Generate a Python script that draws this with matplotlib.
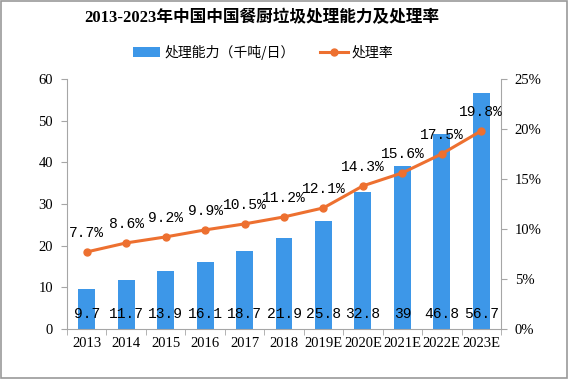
import matplotlib.pyplot as plt
import numpy as np
from matplotlib.patches import Rectangle
from matplotlib.ticker import FuncFormatter, FixedLocator

plt.rcParams['font.family'] = ['Liberation Serif', 'Noto Sans CJK SC']

years = ["2013", "2014", "2015", "2016", "2017", "2018", "2019E", "2020E", "2021E", "2022E", "2023E"]
capacity = [9.7, 11.7, 13.9, 16.1, 18.7, 21.9, 25.8, 32.8, 39, 46.8, 56.7]
rate = [7.7, 8.6, 9.2, 9.9, 10.5, 11.2, 12.1, 14.3, 15.6, 17.5, 19.8]
cap_labels = ["9.7", "11.7", "13.9", "16.1", "18.7", "21.9", "25.8", "32.8", "39", "46.8", "56.7"]

BLUE = "#3d97e8"
ORANGE = "#ed7030"
GRAY = "#a6a6a6"

fig = plt.figure(figsize=(5.68, 3.79), dpi=100)
ax = fig.add_axes([0.118, 0.132, 0.764, 0.66])
ax2 = ax.twinx()

x = np.arange(len(years))
bars = ax.bar(x, capacity, width=0.43, color=BLUE, zorder=2, label="处理能力（千吨/日）")
ax.set_ylim(0, 60)
ax.set_xlim(-0.5, len(years) - 0.5)
ax.set_yticks(range(0, 61, 10))

line, = ax2.plot(x, rate, color=ORANGE, lw=2.2, marker="o", ms=5, zorder=3, label="处理率")
ax2.set_ylim(0, 25)
ax2.set_yticks(range(0, 26, 5))
ax2.yaxis.set_major_formatter(FuncFormatter(lambda v, p: f"{v:.0f}%"))

for xi, lab in zip(x, cap_labels):
    ax.text(xi, 3.5, lab, ha="center", va="center", fontsize=10.5, family=['Liberation Mono'])
for xi, r in zip(x, rate):
    ax2.text(xi, r + 1.2, f"{r}%", ha="center", va="bottom", fontsize=10.5, family=['Liberation Mono'])

ax.set_xticks(x)
ax.set_xticklabels(years)
ax.xaxis.set_minor_locator(FixedLocator(np.arange(-0.5, len(years), 1)))
ax.tick_params(axis="x", which="major", length=0, pad=6, labelsize=10.5)
ax.tick_params(axis="x", which="minor", length=4, color=GRAY)
ax.tick_params(axis="y", length=4, color=GRAY, labelsize=10.5, pad=6)
ax2.tick_params(axis="y", length=4, color=GRAY, labelsize=10.5, pad=6)

for a in (ax, ax2):
    for s in a.spines.values():
        s.set_visible(False)
ax.spines["left"].set_visible(True)
ax.spines["left"].set_color(GRAY)
ax.spines["bottom"].set_visible(True)
ax.spines["bottom"].set_color(GRAY)
ax2.spines["right"].set_visible(True)
ax2.spines["right"].set_color(GRAY)

fig.text(0.46, 0.953, "2013-2023年中国中国餐厨垃圾处理能力及处理率", ha="center", va="center",
         fontsize=12, fontweight="bold")
fig.legend(handles=[bars, line], loc="center", bbox_to_anchor=(0.463, 0.862), ncol=2, frameon=False,
           handlelength=2.0, columnspacing=1.8, handletextpad=0.3,
           prop={"family": ["Noto Sans CJK SC"], "size": 10})

fig.patches.append(Rectangle((0.002, 0.002), 0.996, 0.996, transform=fig.transFigure,
                             fill=False, edgecolor="#999999", lw=1.2))

fig.savefig("out.png", dpi=100)
